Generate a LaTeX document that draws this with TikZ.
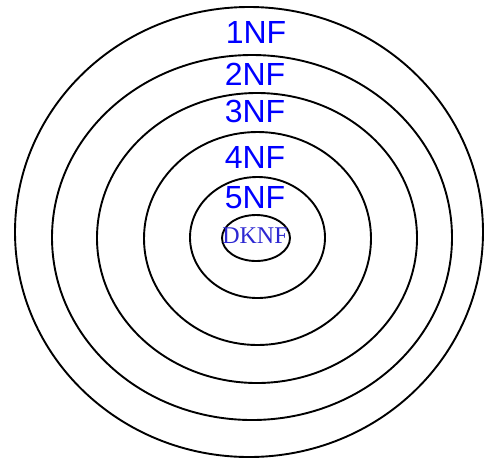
\documentclass[tikz,border=0pt]{standalone}
\usepackage{fontspec}
\setmainfont{Liberation Sans}
\newfontfamily\serifnf{Liberation Serif}
\definecolor{nfblue}{RGB}{0,0,255}
\definecolor{dkblue}{RGB}{45,40,210}
\begin{document}
\begin{tikzpicture}[x=1pt,y=-1pt,
  ring/.style={draw=black,line width=1.9pt},
  nflabel/.style={anchor=base,inner sep=0pt,text=nfblue,font=\fontsize{32}{32}\selectfont},
  dklabel/.style={anchor=base,inner sep=0pt,text=dkblue,font=\serifnf\fontsize{24}{24}\selectfont}]
\useasboundingbox (0,0) rectangle (484,459);
\fill[white] (0,0) rectangle (484,459);
\draw[ring] (249,232) ellipse [x radius=234pt, y radius=225pt];
\draw[ring] (252,237.5) ellipse [x radius=200pt, y radius=182.5pt];
\draw[ring] (257,238) ellipse [x radius=160pt, y radius=145pt];
\draw[ring] (257.5,238.5) ellipse [x radius=113.5pt, y radius=106.5pt];
\draw[ring] (257.5,237.5) ellipse [x radius=67.5pt, y radius=60.5pt];
\draw[ring] (256,238) ellipse [x radius=34pt, y radius=23pt];
\node[nflabel] (n1) at (256,43) {1NF};
\node[nflabel] (n2) at (255,85) {2NF};
\node[nflabel] (n3) at (255,122) {3NF};
\node[nflabel] (n4) at (255,168) {4NF};
\node[nflabel] (n5) at (255,208) {5NF};
\node[dklabel] (dk) at (255,243.5) {DKNF};
\end{tikzpicture}
\end{document}
